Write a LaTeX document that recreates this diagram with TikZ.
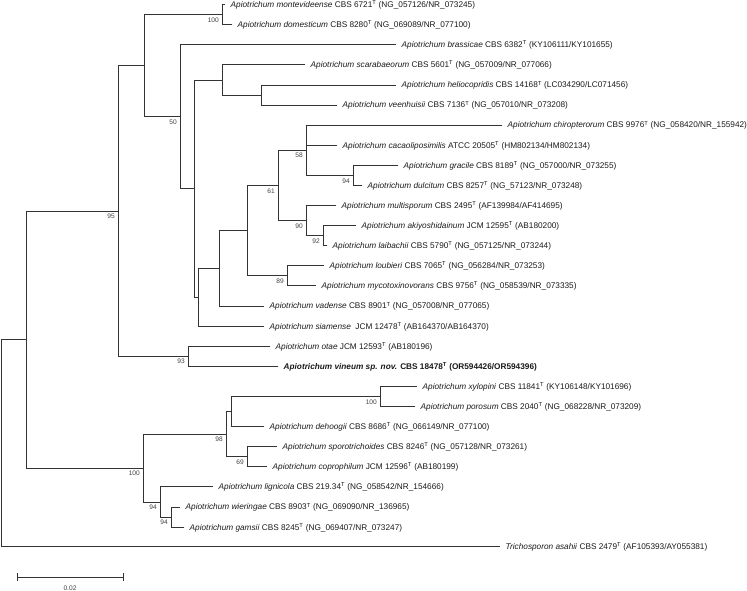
\documentclass[tikz,border=0pt]{standalone}
\usepackage{fontspec}
\setmainfont{Liberation Sans}
\newcommand{\apio}[2]{\textit{Apiotrichum #1} #2}
\begin{document}
\begin{tikzpicture}[x=1pt,y=-1pt,
  br/.style={draw=black!80,line width=0.75pt,line cap=rect},
  leaf/.style={anchor=base west,inner sep=0pt,font=\fontsize{8.25}{10}\selectfont,text=black!90},
  boot/.style={anchor=north east,inner sep=0pt,font=\fontsize{6.6}{7}\selectfont,text=black!75}]
\useasboundingbox (0,0) rectangle (747,591);
% leaf rows
\def\ya{4.5}\def\yb{24.6}\def\yc{44.7}\def\yd{64.8}\def\ye{84.9}\def\yf{105.0}
\def\yg{125.0}\def\yh{145.1}\def\yi{165.2}\def\yj{185.3}\def\yk{205.4}\def\yl{225.5}
\def\ym{245.6}\def\yn{265.7}\def\yo{285.8}\def\yp{305.9}\def\yq{326.0}\def\yr{346.1}
\def\ys{366.2}\def\yt{386.3}\def\yu{406.4}\def\yv{426.5}\def\yw{446.6}\def\yx{466.7}
\def\yy{486.8}\def\yz{506.9}\def\yaa{527.0}\def\ybb{546.7}
% tips
\coordinate (t1) at (225,\ya);
\coordinate (t2) at (232,\yb);
\coordinate (t3) at (396,\yc);
\coordinate (t4) at (305,\yd);
\coordinate (t5) at (396,\ye);
\coordinate (t6) at (337,\yf);
\coordinate (t7) at (502,\yg);
\coordinate (t8) at (337,\yh);
\coordinate (t9) at (398,\yi);
\coordinate (t10) at (362,\yj);
\coordinate (t11) at (336,\yk);
\coordinate (t12) at (356,\yl);
\coordinate (t13) at (327,\ym);
\coordinate (t14) at (324,\yn);
\coordinate (t15) at (316,\yo);
\coordinate (t16) at (264,\yp);
\coordinate (t17) at (264,\yq);
\coordinate (t18) at (270,\yr);
\coordinate (t19) at (278,\ys);
\coordinate (t20) at (417,\yt);
\coordinate (t21) at (415,\yu);
\coordinate (t22) at (264,\yv);
\coordinate (t23) at (277,\yw);
\coordinate (t24) at (267,\yx);
\coordinate (t25) at (213,\yy);
\coordinate (t26) at (180,\yz);
\coordinate (t27) at (184,\yaa);
\coordinate (t28) at (500,\ybb);
% internal nodes
\coordinate (md) at (222,14.55);
\coordinate (hv) at (261,94.95);
\coordinate (sc) at (222,79.9);
\coordinate (gd) at (353,175.25);
\coordinate (cc) at (306,150.1);
\coordinate (akl) at (323,235.55);
\coordinate (n90) at (306,220.5);
\coordinate (n61) at (278,185.3);
\coordinate (n89) at (287,275.75);
\coordinate (n247) at (247,230.5);
\coordinate (n219) at (219,268.2);
\coordinate (n198) at (198,297.1);
\coordinate (n194) at (194,188.5);
\coordinate (n50) at (180,116.6);
\coordinate (n144) at (144,65.6);
\coordinate (ov) at (188,356.15);
\coordinate (n95) at (118,210.9);
\coordinate (xp) at (380,396.35);
\coordinate (xpd) at (231,411.4);
\coordinate (n69) at (247,456.65);
\coordinate (n98) at (226,434.0);
\coordinate (wg) at (171,516.95);
\coordinate (n94) at (160,501.9);
\coordinate (n100) at (143,468.0);
\coordinate (nA) at (26,339.5);
\coordinate (root) at (1.5,443.1);
% branches
\foreach \p/\c in {md/t1,md/t2,n144/md,n144/n50,n50/t3,n50/n194,n194/sc,n194/n198,
  sc/t4,sc/hv,hv/t5,hv/t6,n198/n219,n198/t17,n219/n247,n219/t16,n247/n61,n247/n89,
  n61/cc,n61/n90,cc/t7,cc/t8,cc/gd,gd/t9,gd/t10,n90/t11,n90/akl,akl/t12,akl/t13,
  n89/t14,n89/t15,n95/n144,n95/ov,ov/t18,ov/t19,nA/n95,nA/n100,n100/n98,n100/n94,
  n98/xpd,n98/n69,xpd/xp,xpd/t22,xp/t20,xp/t21,n69/t23,n69/t24,n94/t25,n94/wg,
  wg/t26,wg/t27,root/nA,root/t28}
  \draw[br] (\p) |- (\c);
% labels
\tikzset{lpos/.style={xshift=5.5pt,yshift=-3pt}}
\node[leaf] (l1) at ([lpos]t1) {\apio{montevideense}{CBS 6721\textsuperscript{T} (NG\_057126/NR\_073245)}};
\node[leaf] (l2) at ([lpos]t2) {\apio{domesticum}{CBS 8280\textsuperscript{T} (NG\_069089/NR\_077100)}};
\node[leaf] (l3) at ([lpos]t3) {\apio{brassicae}{CBS 6382\textsuperscript{T} (KY106111/KY101655)}};
\node[leaf] (l4) at ([lpos]t4) {\apio{scarabaeorum}{CBS 5601\textsuperscript{T} (NG\_057009/NR\_077066)}};
\node[leaf] (l5) at ([lpos]t5) {\apio{heliocopridis}{CBS 14168\textsuperscript{T} (LC034290/LC071456)}};
\node[leaf] (l6) at ([lpos]t6) {\apio{veenhuisii}{CBS 7136\textsuperscript{T} (NG\_057010/NR\_073208)}};
\node[leaf] (l7) at ([lpos]t7) {\apio{chiropterorum}{CBS 9976\textsuperscript{T} (NG\_058420/NR\_155942)}};
\node[leaf] (l8) at ([lpos]t8) {\apio{cacaoliposimilis}{ATCC 20505\textsuperscript{T} (HM802134/HM802134)}};
\node[leaf] (l9) at ([lpos]t9) {\apio{gracile}{CBS 8189\textsuperscript{T} (NG\_057000/NR\_073255)}};
\node[leaf] (l10) at ([lpos]t10) {\apio{dulcitum}{CBS 8257\textsuperscript{T} (NG\_57123/NR\_073248)}};
\node[leaf] (l11) at ([lpos]t11) {\apio{multisporum}{CBS 2495\textsuperscript{T} (AF139984/AF414695)}};
\node[leaf] (l12) at ([lpos]t12) {\apio{akiyoshidainum}{JCM 12595\textsuperscript{T} (AB180200)}};
\node[leaf] (l13) at ([lpos]t13) {\apio{laibachii}{CBS 5790\textsuperscript{T} (NG\_057125/NR\_073244)}};
\node[leaf] (l14) at ([lpos]t14) {\apio{loubieri}{CBS 7065\textsuperscript{T} (NG\_056284/NR\_073253)}};
\node[leaf] (l15) at ([lpos]t15) {\apio{mycotoxinovorans}{CBS 9756\textsuperscript{T} (NG\_058539/NR\_073335)}};
\node[leaf] (l16) at ([lpos]t16) {\apio{vadense}{CBS 8901\textsuperscript{T} (NG\_057008/NR\_077065)}};
\node[leaf] (l17) at ([lpos]t17) {\apio{siamense}{\ JCM 12478\textsuperscript{T} (AB164370/AB164370)}};
\node[leaf] (l18) at ([lpos]t18) {\apio{otae}{JCM 12593\textsuperscript{T} (AB180196)}};
\node[leaf] (l19) at ([lpos]t19) {\bfseries\textit{Apiotrichum vineum sp. nov.} CBS 18478\textsuperscript{T} (OR594426/OR594396)};
\node[leaf] (l20) at ([lpos]t20) {\apio{xylopini}{CBS 11841\textsuperscript{T} (KY106148/KY101696)}};
\node[leaf] (l21) at ([lpos]t21) {\apio{porosum}{CBS 2040\textsuperscript{T} (NG\_068228/NR\_073209)}};
\node[leaf] (l22) at ([lpos]t22) {\apio{dehoogii}{CBS 8686\textsuperscript{T} (NG\_066149/NR\_077100)}};
\node[leaf] (l23) at ([lpos]t23) {\apio{sporotrichoides}{CBS 8246\textsuperscript{T} (NG\_057128/NR\_073261)}};
\node[leaf] (l24) at ([lpos]t24) {\apio{coprophilum}{JCM 12596\textsuperscript{T} (AB180199)}};
\node[leaf] (l25) at ([lpos]t25) {\apio{lignicola}{CBS 219.34\textsuperscript{T} (NG\_058542/NR\_154666)}};
\node[leaf] (l26) at ([lpos]t26) {\apio{wieringae}{CBS 8903\textsuperscript{T} (NG\_069090/NR\_136965)}};
\node[leaf] (l27) at ([lpos]t27) {\apio{gamsii}{CBS 8245\textsuperscript{T} (NG\_069407/NR\_073247)}};
\node[leaf] (l28) at ([lpos]t28) {\textit{Trichosporon asahii} CBS 2479\textsuperscript{T} (AF105393/AY055381)};
% bootstrap values
\foreach \n/\v in {md/100,n50/50,cc/58,gd/94,n61/61,n90/90,akl/92,n89/89,ov/93,n95/95,
  xp/100,n98/98,n69/69,n100/100,n94/94,wg/94}
  \node[boot] (b\n) at ([xshift=-3pt,yshift=-3pt]\n) {\v};
% scale bar
\coordinate (sb1) at (17,577);
\coordinate (sb2) at (123,577);
\draw[br] (sb1) -- (sb2);
\draw[br] ([yshift=-3.5pt]sb1) -- ([yshift=3.5pt]sb1);
\draw[br] ([yshift=-3.5pt]sb2) -- ([yshift=3.5pt]sb2);
\node[inner sep=0pt,font=\fontsize{6.6}{7}\selectfont,text=black!75] (sbl) at (70,588) {0.02};
\end{tikzpicture}
\end{document}
